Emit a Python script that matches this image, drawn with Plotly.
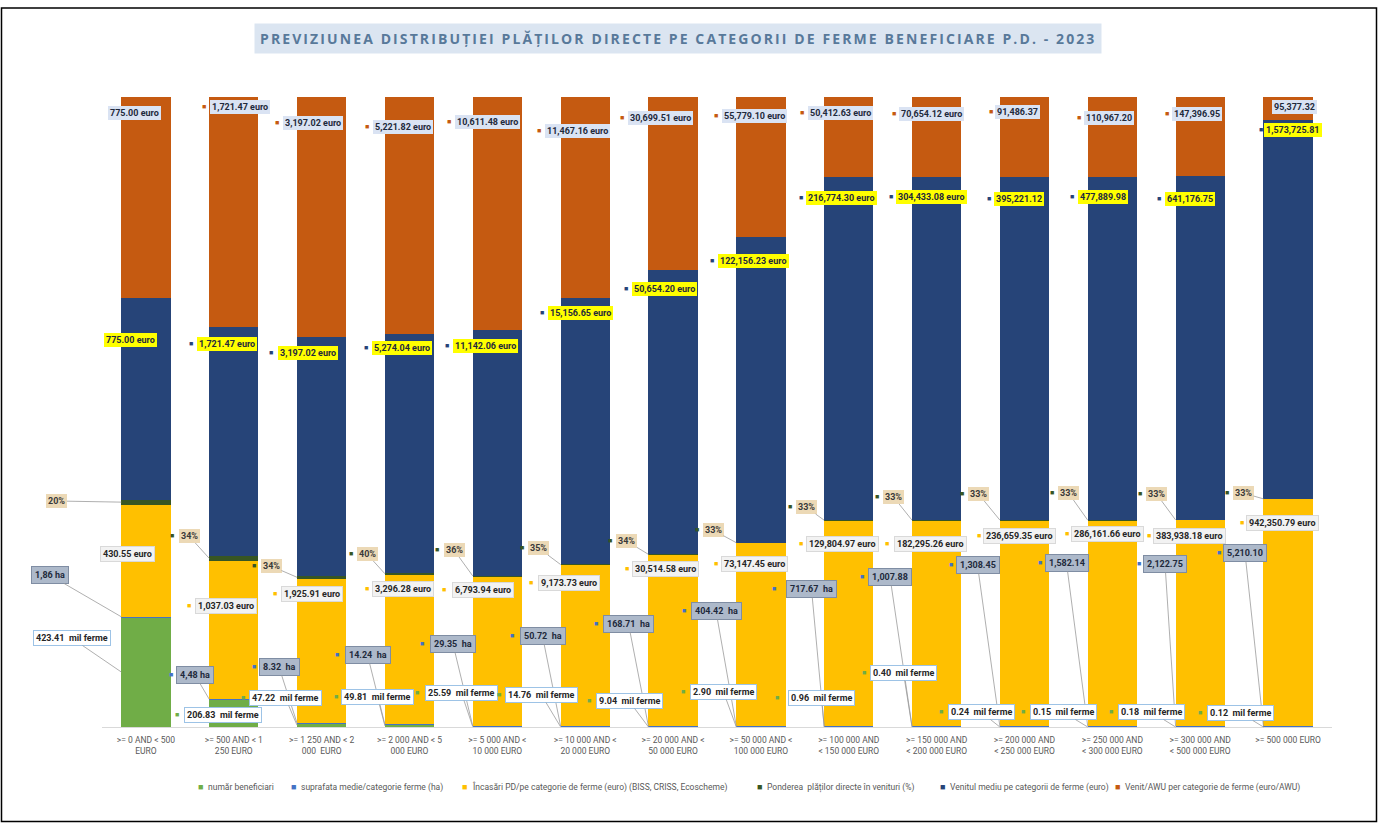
import plotly.graph_objects as go

# ---------------- DATA ----------------
categories = [
    ">= 0 AND < 500<br>EURO",
    ">= 500 AND < 1<br>250 EURO",
    ">= 1 250 AND < 2<br>000  EURO",
    ">= 2 000 AND < 5<br>000 EURO",
    ">= 5 000 AND <<br>10 000 EURO",
    ">= 10 000 AND <<br>20 000 EURO",
    ">= 20 000 AND <<br>50 000 EURO",
    ">= 50 000 AND <<br>100 000 EURO",
    ">= 100 000 AND<br>< 150 000 EURO",
    ">= 150 000 AND<br>< 200 000 EURO",
    ">= 200 000 AND<br>< 250 000 EURO",
    ">= 250 000 AND<br>< 300 000 EURO",
    ">= 300 000 AND<br>< 500 000 EURO",
    ">= 500 000 EURO",
]
beneficiari = [423.41, 206.83, 47.22, 49.81, 25.59, 14.76, 9.04, 2.90, 0.96, 0.40, 0.24, 0.15, 0.18, 0.12]
suprafata = [1.86, 4.48, 8.32, 14.24, 29.35, 50.72, 168.71, 404.42, 717.67, 1007.88, 1308.45, 1582.14, 2122.75, 5210.10]
incasari = [430.55, 1037.03, 1925.91, 3296.28, 6793.94, 9173.73, 30514.58, 73147.45, 129804.97,
            182295.26, 236659.35, 286161.66, 383938.18, 942350.79]
pondere = [20, 34, 34, 40, 36, 35, 34, 33, 33, 33, 33, 33, 33, 33]
venit_mediu = [775.00, 1721.47, 3197.02, 5274.04, 11142.06, 15156.65, 50654.20, 122156.23, 216774.30,
               304433.08, 395221.12, 477889.98, 641176.75, 1573725.81]
venit_awu = [775.00, 1721.47, 3197.02, 5221.82, 10611.48, 11467.16, 30699.51, 55779.10, 50412.63,
             70654.12, 91486.37, 110967.20, 147396.95, 95377.32]

series_names = [
    "număr beneficiari",
    "suprafata medie/categorie ferme (ha)",
    "Încasări PD/pe categorie de ferme (euro) (BISS, CRISS, Ecoscheme)",
    "Ponderea  plăților directe în venituri (%)",
    "Venitul mediu pe categorii de ferme (euro)",
    "Venit/AWU per categorie de ferme (euro/AWU)",
]
title_text = "PREVIZIUNEA DISTRIBUȚIEI PLĂȚILOR DIRECTE PE CATEGORII DE FERME BENEFICIARE P.D. - 2023"

# ---------------- LABEL TEXTS (derived from values) ----------------
n = len(categories)
euro_suffix = [" euro"] * 10 + [""] * 4
txt_green = [f"{v:.2f}  mil ferme" for v in beneficiari]
txt_ha = []
for i, v in enumerate(suprafata):
    if i < 2:
        txt_ha.append(f"{v:.2f}".replace(".", ",") + " ha")
    elif v < 1000:
        txt_ha.append(f"{v:.2f}  ha")
    else:
        txt_ha.append(f"{v:,.2f}")
txt_yel = [f"{v:,.2f} euro" for v in incasari]
txt_pond = [f"{v:.0f}%" for v in pondere]
txt_navy = [f"{v:,.2f}{s}" for v, s in zip(venit_mediu, euro_suffix)]
txt_awu = [f"{v:,.2f}{s}" for v, s in zip(venit_awu, euro_suffix)]

# ---------------- GEOMETRY / STYLE ----------------
W, H = 1379, 823
ML, MR, MT, MB = 102, 47, 97, 96
PW, PH = W - ML - MR, H - MT - MB
BAR_W = 0.56


def px2x(px):
    return (px - ML) / PW * n - 0.5


def py2y(py):
    return (MT + PH - py) / PH * 100


def px2p(px):
    return (px - ML) / PW


def py2p(py):
    return (MT + PH - py) / PH


# label boxes: left px, right px, center y px
lab_awu = ([107, 210, 283, 373, 455, 545, 628, 722, 808, 900, 997, 1085, 1173, 1273],
           [162, 270, 343, 432, 520, 610, 693, 787, 872, 962, 1038, 1132, 1220, 1315],
           [113, 107, 123, 127, 122, 131, 118, 116, 113, 114, 112, 118, 114, 107])
lab_navy = ([103, 197, 277, 372, 453, 548, 632, 718, 807, 897, 995, 1078, 1165, 1267],
            [158, 257, 338, 432, 518, 612, 697, 788, 875, 965, 1042, 1127, 1215, 1318],
            [340, 344, 353, 348, 346, 313, 289, 261, 198, 197, 199, 197, 199, 130])
lab_yel = ([102, 195, 281, 373, 450, 537, 633, 722, 807, 893, 985, 1073, 1155, 1248],
           [153, 257, 342, 433, 515, 600, 698, 787, 877, 967, 1053, 1142, 1223, 1317],
           [554, 606, 594, 589, 590, 583, 569, 564, 544, 544, 536, 534, 536, 523])
lab_pond = ([46, 178, 260, 357, 443, 528, 616, 703, 796, 883, 968, 1058, 1146, 1233],
            [67, 200, 282, 377, 465, 549, 637, 723, 816, 904, 989, 1079, 1167, 1253],
            [501, 536, 566, 554, 550, 548, 541, 530, 507, 497, 494, 493, 494, 493])
lab_ha = ([26, 177, 260, 343, 428, 518, 602, 690, 780, 868, 957, 1046, 1145, 1225],
          [73, 213, 298, 392, 478, 567, 655, 742, 843, 912, 998, 1087, 1185, 1265],
          [575, 675, 667, 655, 644, 636, 624, 611, 589, 577, 565, 563, 564, 553])
lab_green = ([33, 183, 249, 342, 423, 505, 595, 689, 783, 870, 947, 1029, 1117, 1206],
             [110, 262, 322, 413, 500, 578, 663, 758, 860, 937, 1015, 1097, 1186, 1275],
             [638, 715, 698, 697, 693, 695, 701, 692, 698, 673, 712, 712, 712, 713])
# custom legend: marker x, text start x (px)
legend_marker_x = [200, 293, 464, 759, 942, 1117]
legend_text_x = [206, 299, 470, 765, 948, 1123]
LEGEND_Y = 787

C_GREEN = "#70ad47"
C_HA = "#4472c4"
C_YEL = "#ffc000"
C_POND = "#375623"
C_NAVY = "#264478"
C_AWU = "#c55a11"
colors = [C_GREEN, C_HA, C_YEL, C_POND, C_NAVY, C_AWU]

fig = go.Figure()
xs = list(range(n))
for vals, name, col in zip([beneficiari, suprafata, incasari, pondere, venit_mediu, venit_awu],
                           series_names, colors):
    fig.add_trace(go.Bar(x=xs, y=vals, name=name, marker_color=col, width=BAR_W,
                         marker_line_width=0, hoverinfo="name+y", showlegend=False))

# segment midpoints (percent) for leader-line heads
tot = [sum(t) for t in zip(beneficiari, suprafata, incasari, pondere, venit_mediu, venit_awu)]
mid_green = [beneficiari[i] / 2 / tot[i] * 100 for i in range(n)]
mid_ha = [(beneficiari[i] + suprafata[i] / 2) / tot[i] * 100 for i in range(n)]
mid_pond = [(beneficiari[i] + suprafata[i] + incasari[i] + pondere[i] / 2) / tot[i] * 100 for i in range(n)]

annotations = []
LFONT = "Roboto, Arial, sans-serif"


def add_labels(texts, boxes, bg, border, fcolor, mcolor, heads=None, noarrow=(), pad=2, fsize=9):
    lefts, rights, ys = boxes
    for i in range(n):
        cx = (lefts[i] + rights[i]) / 2
        cy = ys[i]
        annotations.append(dict(x=px2x(lefts[i] - 6), y=py2y(cy), xref="x", yref="y", text="■",
                                showarrow=False, xanchor="center", yanchor="middle",
                                font=dict(size=7, color=mcolor, family=LFONT)))
        a = dict(xref="x", yref="y", text="<b>" + texts[i] + "</b>", bgcolor=bg,
                 bordercolor=border if border else "rgba(0,0,0,0)",
                 borderwidth=1 if border else 0, borderpad=pad, xanchor="center", yanchor="middle",
                 font=dict(size=fsize, color=fcolor, family=LFONT))
        if heads is not None and i not in noarrow:
            a.update(x=i - BAR_W / 2, y=heads[i], ax=px2x(cx), ay=py2y(cy), axref="x", ayref="y",
                     showarrow=True, arrowhead=0, arrowwidth=0.8, arrowcolor="#9a9a9a", standoff=0)
        else:
            a.update(x=px2x(cx), y=py2y(cy), showarrow=False)
        annotations.append(a)


add_labels(txt_awu, lab_awu, "#dae3f3", None, "#1f2a3c", C_AWU)
add_labels(txt_navy, lab_navy, "#ffff00", None, "#1f2a3c", C_NAVY)
add_labels(txt_yel, lab_yel, "#f2f2f2", "#d9d9d9", "#262626", C_YEL)
add_labels(txt_pond, lab_pond, "#ecd9b6", None, "#3a3a3a", C_POND, heads=mid_pond)
add_labels(txt_ha, lab_ha, "#adb9ca", "#7f8da3", "#1f2a3c", C_HA, heads=mid_ha, pad=3)
add_labels(txt_green, lab_green, "#ffffff", "#9dc3e6", "#262626", C_GREEN, heads=mid_green, noarrow=(1,))

# custom one-row legend
for name, col, mx, tx in zip(series_names, colors, legend_marker_x, legend_text_x):
    annotations.append(dict(x=px2p(mx), y=py2p(LEGEND_Y), xref="paper", yref="paper", text="■",
                            showarrow=False, xanchor="center", yanchor="middle",
                            font=dict(size=9, color=col, family=LFONT)))
    annotations.append(dict(x=px2p(tx), y=py2p(LEGEND_Y), xref="paper", yref="paper", text=name,
                            showarrow=False, xanchor="left", yanchor="middle",
                            font=dict(size=8.5, color="#595959", family=LFONT)))

# title
annotations.append(dict(x=px2p(678), y=py2p(38), xref="paper", yref="paper", showarrow=False,
                        xanchor="center", yanchor="middle",
                        text='<b><span style="letter-spacing:2.1px">' + title_text + "</span></b>",
                        bgcolor="#dbe5f1", borderpad=5,
                        font=dict(size=14, color="#58799a", family="Open Sans, Arial, sans-serif")))

shapes = [dict(type="rect", xref="paper", yref="paper", x0=px2p(1.5), x1=px2p(1376.5),
               y0=py2p(821.5), y1=py2p(8), line=dict(color="#000000", width=1.5), layer="below")]

fig.update_layout(
    width=W, height=H,
    margin=dict(l=ML, r=MR, t=MT, b=MB, autoexpand=False),
    paper_bgcolor="white", plot_bgcolor="white",
    barmode="stack", barnorm="percent",
    showlegend=False,
    xaxis=dict(range=[-0.5, n - 0.5], tickvals=xs, ticktext=categories, showgrid=False,
               showline=True, linecolor="#d9d9d9", linewidth=1, ticks="", zeroline=False,
               ticklabelstandoff=5,
               tickfont=dict(size=8.5, color="#595959", family=LFONT)),
    yaxis=dict(range=[0, 100], visible=False, showgrid=False),
    annotations=annotations,
    shapes=shapes,
    font=dict(family=LFONT),
)

fig.write_html("out.html", config={"displayModeBar": False},
               post_script="document.body.style.margin='0';document.body.style.overflow='hidden';")
